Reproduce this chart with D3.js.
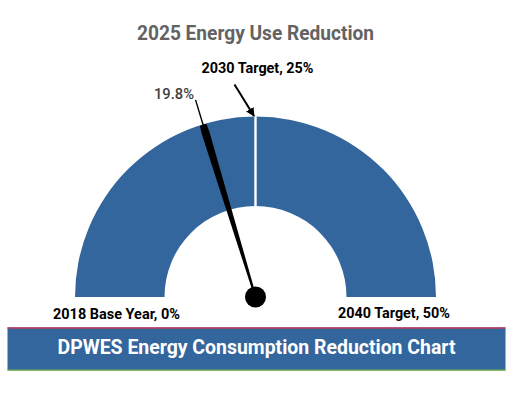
<!DOCTYPE html>
<html>
<head>
<meta charset="utf-8">
<script src="https://cdn.jsdelivr.net/npm/d3@7"></script>
<style>
  html, body { margin: 0; padding: 0; background: #fff; }
  svg { display: block; }
  text { font-family: Roboto, "Open Sans", sans-serif; }
</style>
</head>
<body>
<script>
const segmentNames = ["2018 to 2030", "2030 to 2040"];
const segmentStarts = [0, 25];
const segmentEnds = [25, 50];

// needle position, the printed label says 19.8%
const needleValue = 20.3;
const needleLabel = "19.8%";

const chartTitle = "2025 Energy Use Reduction";
const bannerTitle = "DPWES Energy Consumption Reduction Chart";
const targetLabels = ["2018 Base Year, 0%", "2030 Target, 25%", "2040 Target, 50%"];

const width = 514;
const height = 411;
const cx = 255.5;
const cy = 297;
const outerRadius = 180.5;
const innerRadius = 91;

const angle = d3.scaleLinear()
    .domain([0, 50])
    .range([-Math.PI / 2, Math.PI / 2]);

const svg = d3.select("body")
    .append("svg")
    .attr("viewBox", [0, 0, width, height].join(" "))
    .attr("width", width)
    .attr("height", height);

svg.append("defs")
    .append("marker")
    .attr("id", "arrow")
    .attr("viewBox", "0 0 10 10")
    .attr("refX", 9)
    .attr("refY", 5)
    .attr("markerWidth", 4.4)
    .attr("markerHeight", 4.4)
    .attr("orient", "auto")
    .append("path")
    .attr("d", "M0,0L10,5L0,10Z")
    .attr("fill", "#000");

const arc = d3.arc()
    .innerRadius(innerRadius)
    .outerRadius(outerRadius)
    .startAngle((d, i) => angle(segmentStarts[i]))
    .endAngle((d, i) => angle(segmentEnds[i]));

const gauge = svg.append("g")
    .attr("transform", `translate(${cx}, ${cy})`);

gauge.selectAll(".segment")
    .data(segmentNames)
    .enter()
    .append("path")
    .attr("class", "segment")
    .attr("d", arc)
    .attr("fill", "#33669c");

gauge.append("line")
    .attr("x1", 0)
    .attr("x2", 0)
    .attr("y1", -innerRadius)
    .attr("y2", -outerRadius)
    .attr("stroke", "#fff")
    .attr("stroke-width", 2.4);

// needle: wedge up to the rim of the ring, thin line past it
const needle = gauge.append("g")
    .attr("transform", `rotate(${angle(needleValue) * 180 / Math.PI})`);

needle.append("path")
    .attr("d", d3.line()([[-1, 0], [-4, -172], [-3.4, -180], [3.4, -180], [4, -172], [1, 0]]) + "Z")
    .attr("fill", "#000");

needle.append("line")
    .attr("x1", 0)
    .attr("x2", 0)
    .attr("y1", -178)
    .attr("y2", -206)
    .attr("stroke", "#000")
    .attr("stroke-width", 1.4);

gauge.append("circle")
    .attr("r", 10.5)
    .attr("fill", "#000");

svg.append("line")
    .attr("x1", 234.5)
    .attr("y1", 84.5)
    .attr("x2", 254)
    .attr("y2", 116)
    .attr("stroke", "#000")
    .attr("stroke-width", 2)
    .attr("marker-end", "url(#arrow)");

svg.append("text")
    .attr("x", cx)
    .attr("y", 40)
    .attr("text-anchor", "middle")
    .attr("font-size", 20.5)
    .attr("font-weight", 700)
    .attr("fill", "#636363")
    .attr("textLength", 237)
    .attr("lengthAdjust", "spacingAndGlyphs")
    .text(chartTitle);

svg.append("text")
    .attr("x", 154)
    .attr("y", 99)
    .attr("font-size", 15)
    .attr("font-weight", 500)
    .attr("fill", "#404040")
    .attr("textLength", 40)
    .attr("lengthAdjust", "spacingAndGlyphs")
    .text(needleLabel);

const labelAnchors = [[53, 319, 127], [201.5, 73, 112], [338, 318, 112]];

svg.selectAll(".target")
    .data(targetLabels)
    .enter()
    .append("text")
    .attr("class", "target")
    .attr("x", (d, i) => labelAnchors[i][0])
    .attr("y", (d, i) => labelAnchors[i][1])
    .attr("textLength", (d, i) => labelAnchors[i][2])
    .attr("lengthAdjust", "spacingAndGlyphs")
    .attr("font-size", 15)
    .attr("font-weight", 700)
    .attr("fill", "#000")
    .text((d) => d);

svg.append("rect")
    .attr("x", 7.5)
    .attr("y", 327.5)
    .attr("width", 498)
    .attr("height", 43)
    .attr("fill", "#33669c");

svg.append("line")
    .attr("x1", 7.5)
    .attr("x2", 505.5)
    .attr("y1", 328)
    .attr("y2", 328)
    .attr("stroke", "#c23a5e")
    .attr("stroke-width", 1.5);

svg.append("line")
    .attr("x1", 7.5)
    .attr("x2", 505.5)
    .attr("y1", 370.2)
    .attr("y2", 370.2)
    .attr("stroke", "#7cb84a")
    .attr("stroke-width", 1.3);

svg.append("text")
    .attr("x", 256.5)
    .attr("y", 354)
    .attr("text-anchor", "middle")
    .attr("font-size", 21)
    .attr("font-weight", 700)
    .attr("fill", "#fff")
    .attr("textLength", 398)
    .attr("lengthAdjust", "spacingAndGlyphs")
    .text(bannerTitle);
</script>
</body>
</html>
